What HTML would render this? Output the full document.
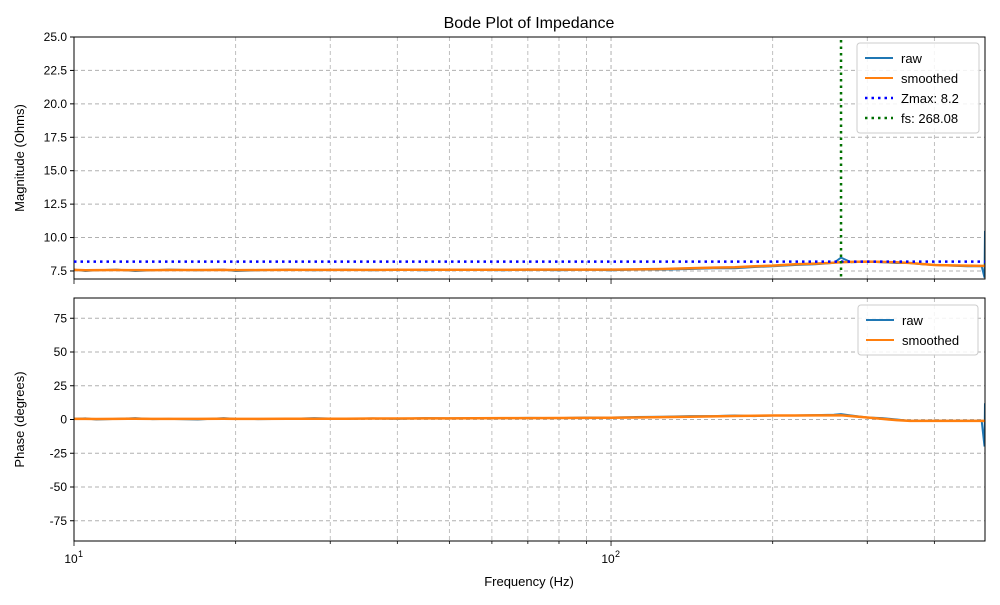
<!DOCTYPE html>
<html><head><meta charset="utf-8"><style>
body{margin:0;background:#fff;font-family:"Liberation Sans",sans-serif}
svg text{font-family:"Liberation Sans",sans-serif;fill:#000}
</style></head><body>
<svg id="c" width="1000" height="600" xmlns="http://www.w3.org/2000/svg"></svg>
<script>
const freqs=[10,10.5,11,12,13,14,15,17,19,20,22,25,28,32,36,40,45,50,56,63,70,80,90,100,110,125,140,155,170,185,200,220,240,260,268,280,300,320,340,360,380,400,430,460,490,496,497];
const magRaw=[7.6,7.5,7.55,7.6,7.5,7.55,7.6,7.55,7.6,7.5,7.55,7.6,7.55,7.6,7.55,7.6,7.55,7.6,7.6,7.55,7.6,7.55,7.6,7.55,7.6,7.6,7.65,7.7,7.7,7.8,7.85,7.95,8.0,8.1,8.5,8.15,8.2,8.15,8.1,8.1,8.0,7.95,7.9,7.85,7.85,7.0,10.5];
const magSmooth=[7.58,7.55,7.56,7.57,7.56,7.56,7.57,7.57,7.58,7.56,7.57,7.58,7.58,7.58,7.58,7.59,7.59,7.59,7.59,7.59,7.6,7.6,7.6,7.6,7.62,7.65,7.7,7.75,7.78,7.85,7.9,8.0,8.05,8.12,8.15,8.18,8.2,8.18,8.15,8.1,8.02,7.95,7.92,7.9,7.88,7.88,7.88];
const phRaw=[0.5,0.8,0,0.5,1,0.3,0.5,0,1,0.5,0.3,0.5,1,0.5,0.8,0.5,1,0.8,1,1,1.2,1,1.5,1.5,1.8,2,2.5,2.5,3,2.5,3,3,3.2,3.5,4,3,1.5,1,0,-1,-1,-1,-1,-1,-1,-20,12];
const phSmooth=[0.5,0.5,0.4,0.5,0.6,0.5,0.5,0.5,0.6,0.5,0.5,0.6,0.6,0.6,0.7,0.7,0.8,0.8,0.9,1,1,1.1,1.2,1.3,1.5,1.8,2,2.3,2.6,2.8,3,3,3.1,3.1,3.1,2.5,1.5,0.5,-0.5,-1,-1,-1,-1,-1,-1,-1,-1];
const magTicks=[7.5,10,12.5,15,17.5,20,22.5,25];
const phTicks=[-75,-50,-25,0,25,50,75];
const zmax=8.2, fs=268.08;
const NS="http://www.w3.org/2000/svg", svg=document.getElementById('c');
const X0=74,X1=985,lmin=1,lmax=Math.log10(497);
const xs=f=>X0+(Math.log10(f)-lmin)/(lmax-lmin)*(X1-X0);
function mk(t,a,txt){const e=document.createElementNS(NS,t);for(const k in a)e.setAttribute(k,a[k]);if(txt!==undefined)e.textContent=txt;svg.appendChild(e);return e;}
function panel(top,bot,ymin,ymax,ticks,fmt,label,series){
 const ys=v=>bot-(v-ymin)/(ymax-ymin)*(bot-top);
 let cp='cp'+top;const d=mk('clipPath',{id:cp});const r=document.createElementNS(NS,'rect');r.setAttribute('x',X0);r.setAttribute('y',top);r.setAttribute('width',X1-X0);r.setAttribute('height',bot-top);d.appendChild(r);
 for(let dec=10;dec<=100;dec*=10)for(let m=1;m<10;m++){const f=dec*m;if(f<10||f>497)continue;const x=xs(f);
  let g=mk('line',{x1:x,x2:x,y1:top,y2:bot,stroke:'#b0b0b0','stroke-dasharray':'4,3','stroke-width':m==1?1:0.8});
  let t=mk('line',{x1:x,x2:x,y1:bot,y2:bot+(m==1?5:3),stroke:'#000','stroke-width':0.8});}
 ticks.forEach(v=>{const y=ys(v);let g=mk('line',{x1:X0,x2:X1,y1:y,y2:y,stroke:'#b0b0b0','stroke-dasharray':'4,3'});
  mk('line',{x1:X0-4,x2:X0,y1:y,y2:y,stroke:'#000'});let l=mk('text',{x:X0-7,y:y+4,'text-anchor':'end','font-size':12},fmt(v));});
 series.forEach(s=>{const p=mk('polyline',{points:freqs.map((f,i)=>xs(f)+','+ys(s.v[i])).join(' '),fill:'none',stroke:s.c,'stroke-width':s.w,'clip-path':'url(#'+cp+')'});});
 let fr=mk('rect',{x:X0,y:top,width:X1-X0,height:bot-top,fill:'none',stroke:'#000','stroke-width':1});
 let yl=mk('text',{x:0,y:0,'text-anchor':'middle','font-size':13,transform:`translate(24,${(top+bot)/2}) rotate(-90)`},label);
}
let title=mk('text',{x:529,y:28,'text-anchor':'middle','font-size':16},'Bode Plot of Impedance');
panel(37,279,6.9,25,magTicks,v=>v.toFixed(1),'Magnitude (Ohms)',[{v:magRaw,c:'#1f77b4',w:2,n:'raw-magnitude-line'},{v:magSmooth,c:'#ff7f0e',w:2.5,n:'smoothed-magnitude-line'}]);
(function(){const ys=v=>279-(v-6.9)/(25-6.9)*(279-37);
 let z=mk('line',{x1:X0,x2:X1,y1:ys(zmax),y2:ys(zmax),stroke:'#0000ff','stroke-width':2.5,'stroke-dasharray':'2.5,4'});
 let f=mk('line',{x1:xs(fs),x2:xs(fs),y1:40,y2:279,stroke:'#007000','stroke-width':2.5,'stroke-dasharray':'2.5,4'});})();
panel(298,541,-90,90,phTicks,v=>String(v),'Phase (degrees)',[{v:phRaw,c:'#1f77b4',w:2,n:'raw-phase-line'},{v:phSmooth,c:'#ff7f0e',w:2.5,n:'smoothed-phase-line'}]);
[[10,'10'],[100,'10']].forEach(([f,t])=>{const x=xs(f);let e=mk('text',{x:x-3,y:563,'text-anchor':'middle','font-size':12},t);mk('text',{x:x+4,y:557,'font-size':9},f==10?'1':'2');});
let xl=mk('text',{x:529,y:586,'text-anchor':'middle','font-size':13},'Frequency (Hz)');
function legend(x,y,w,items,name){let g=mk('rect',{x,y,width:w,height:items.length*20+10,fill:'#fff','fill-opacity':0.85,stroke:'#ccc',rx:3});
 items.forEach((it,i)=>{const yy=y+15+i*20;mk('line',{x1:x+8,x2:x+36,y1:yy,y2:yy,stroke:it.c,'stroke-width':it.d?2.5:2,'stroke-dasharray':it.d?'2.5,4':''});let t=mk('text',{x:x+44,y:yy+5,'font-size':13},it.t);});}
legend(857,43,122,[{c:'#1f77b4',t:'raw'},{c:'#ff7f0e',t:'smoothed'},{c:'#0000ff',t:'Zmax: 8.2',d:1},{c:'#007000',t:'fs: 268.08',d:1}],'magnitude-legend');
legend(858,305,120,[{c:'#1f77b4',t:'raw'},{c:'#ff7f0e',t:'smoothed'}],'phase-legend');
</script></body></html>
